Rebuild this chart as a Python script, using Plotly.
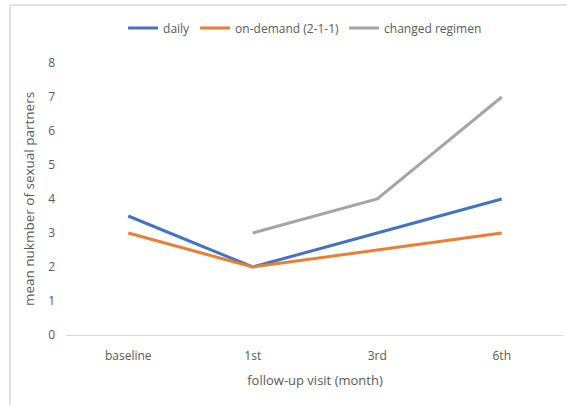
import plotly.graph_objects as go

visits = ["baseline", "1st", "3rd", "6th"]
daily = [3.5, 2, 3, 4]
on_demand = [3, 2, 2.5, 3]
changed = [None, 3, 4, 7]

W, H = 567, 405
ML, MR, MT, MB = 66, 3, 63, 70
pw = W - ML - MR
ph = H - MT - MB

def px_x(p):
    return (p - ML) / pw

def px_y(p):
    return (H - MB - p) / ph

font_main = "Open Sans, Arial"
grey_txt = "#595959"

fig = go.Figure()
series = [
    ("daily", daily, "#4472C4"),
    ("on-demand (2-1-1)", on_demand, "#ED7D31"),
    ("changed regimen", changed, "#A5A5A5"),
]
for name, vals, col in series:
    fig.add_trace(go.Scatter(
        x=visits, y=vals, name=name, mode="lines",
        line=dict(color=col, width=3),
        connectgaps=False,
    ))

# chart frame (top and left edges)
fig.add_shape(type="line", xref="paper", yref="paper",
              x0=px_x(10), x1=px_x(567), y0=px_y(5), y1=px_y(5),
              line=dict(color="#D9D9D9", width=1.5))
fig.add_shape(type="line", xref="paper", yref="paper",
              x0=px_x(10), x1=px_x(10), y0=px_y(5), y1=px_y(405),
              line=dict(color="#D9D9D9", width=1.5))

fig.update_layout(
    width=W, height=H,
    margin=dict(l=ML, r=MR, t=MT, b=MB),
    plot_bgcolor="white", paper_bgcolor="white",
    font=dict(family=font_main, size=12, color=grey_txt),
    legend=dict(orientation="h", x=0.48, xanchor="center",
                y=px_y(28), yanchor="middle",
                font=dict(size=12, color=grey_txt),
                itemwidth=30, tracegroupgap=0),
    xaxis=dict(
        type="category", range=[-0.5, 3.5],
        showgrid=False, showline=True, linecolor="#D9D9D9", linewidth=1,
        ticks="", ticklabelstandoff=10,
        tickfont=dict(size=12, color=grey_txt),
        title=dict(text="follow-up visit (month)", standoff=12,
                   font=dict(size=13, color=grey_txt)),
    ),
    yaxis=dict(
        range=[0, 8], dtick=1, showgrid=False, zeroline=False,
        showline=False, ticks="", ticklabelstandoff=10,
        tickfont=dict(size=12, color=grey_txt),
        title=dict(text="mean nukmber of sexual partners", standoff=10,
                   font=dict(size=13.5, color=grey_txt)),
    ),
)

fig.write_html("out.html")
